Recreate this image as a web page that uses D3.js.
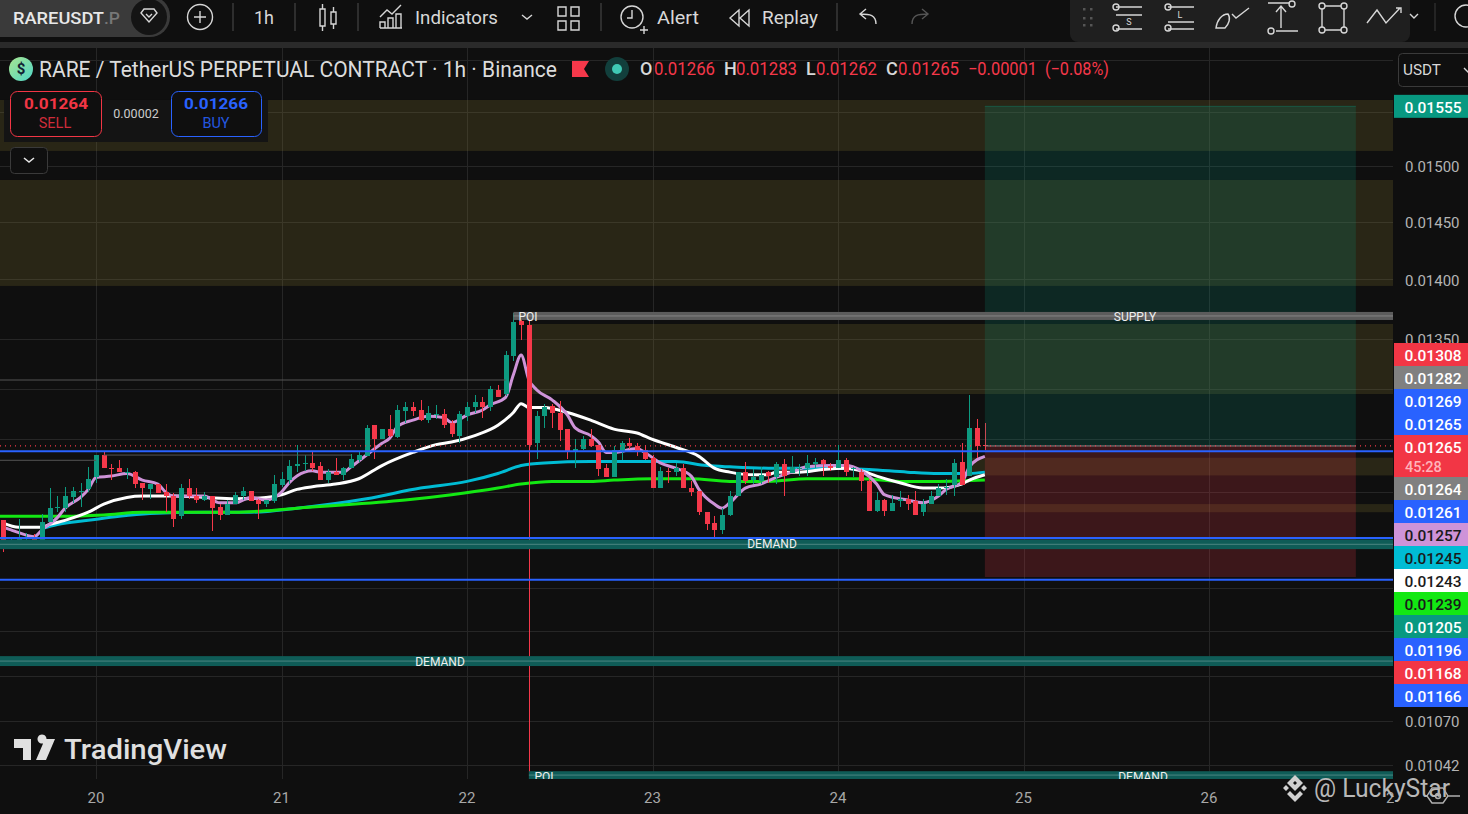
<!DOCTYPE html>
<html lang="en">
<head>
<meta charset="utf-8">
<title>RAREUSDT.P 1h</title>
<style>
	html, body { margin:0; padding:0; background:#0f0f0f; overflow:hidden; }
	svg { display:block; font-family:Roboto, sans-serif; }
	.icon { fill:none; stroke:#d6d6d6; stroke-width:1.4; }
</style>
</head>
<body>
<script src="https://cdn.jsdelivr.net/npm/d3@7"></script>
<script>
// candles, prices in ticks of 0.00001
var opens = [1209,1190,1191,1193,1197,1191,1208,1218,1218,1226,1230,1232,1241,1258,1248,1248,1244,1245,1237,1232,
	1236,1230,1227,1212,1233,1227,1224,1227,1219,1213,1221,1227,1231,1224,1221,1223,1235,1239,1250,1251,
	1252,1250,1239,1245,1243,1248,1254,1257,1281,1270,1278,1272,1292,1295,1293,1285,1289,1290,1283,1273,
	1288,1295,1299,1295,1309,1306,1336,1365,1362,1267,1288,1296,1291,1278,1260,1263,1270,1266,1248,1241,
	1260,1267,1265,1262,1256,1233,1246,1245,1248,1233,1231,1215,1207,1202,1213,1227,1245,1239,1238,1245,
	1241,1251,1244,1247,1248,1251,1254,1250,1248,1254,1247,1245,1238,1216,1224,1216,1223,1225,1223,1215,
	1221,1227,1233,1235,1253,1242,1279,1266];
var closes = [1190,1193,1197,1194,1190,1208,1218,1219,1227,1231,1231,1240,1258,1248,1247,1245,1245,1236,1233,1236,
	1229,1227,1210,1233,1227,1224,1227,1218,1213,1221,1228,1231,1223,1221,1224,1236,1240,1250,1251,1252,
	1248,1239,1245,1243,1248,1255,1258,1279,1270,1278,1273,1293,1295,1292,1285,1291,1290,1281,1274,1290,
	1295,1299,1295,1310,1303,1337,1364,1362,1266,1288,1295,1291,1277,1260,1263,1270,1265,1247,1241,1262,
	1267,1265,1261,1255,1233,1246,1245,1248,1233,1230,1215,1206,1202,1213,1227,1245,1238,1241,1243,1242,
	1251,1242,1249,1248,1252,1253,1251,1248,1254,1245,1248,1238,1216,1224,1216,1222,1225,1221,1213,1221,
	1227,1233,1234,1252,1235,1279,1265,1265];
var highs = [1209,1195,1210,1200,1199,1214,1233,1227,1234,1234,1237,1249,1258,1260,1251,1254,1248,1246,1237,1236,
	1236,1236,1229,1236,1240,1233,1230,1227,1221,1224,1230,1234,1231,1225,1224,1243,1245,1254,1266,1258,
	1260,1253,1247,1256,1249,1259,1260,1281,1281,1278,1289,1297,1299,1299,1301,1296,1297,1294,1285,1292,
	1299,1305,1303,1312,1313,1340,1372,1370,1366,1292,1298,1298,1300,1278,1270,1273,1278,1266,1251,1265,
	1269,1271,1267,1266,1258,1249,1248,1252,1251,1238,1231,1215,1212,1218,1231,1245,1253,1247,1249,1246,
	1253,1255,1257,1251,1258,1256,1255,1252,1266,1256,1249,1247,1240,1230,1225,1228,1231,1228,1231,1225,
	1231,1236,1240,1255,1267,1305,1286,1283];
var lows = [1186,1189,1191,1191,1188,1191,1208,1215,1215,1222,1219,1230,1237,1248,1239,1245,1240,1233,1224,1225,
	1229,1215,1204,1210,1225,1222,1223,1201,1209,1213,1221,1224,1223,1210,1219,1222,1234,1236,1245,1246,
	1246,1239,1237,1243,1239,1248,1253,1257,1255,1270,1272,1271,1283,1288,1284,1283,1286,1279,1272,1267,
	1284,1291,1287,1292,1303,1304,1332,1349,1033,1255,1279,1279,1269,1255,1248,1262,1264,1242,1241,1241,
	1254,1263,1257,1254,1233,1233,1237,1242,1233,1227,1213,1202,1197,1199,1212,1227,1236,1236,1236,1237,
	1236,1227,1244,1242,1242,1248,1242,1246,1248,1242,1241,1231,1216,1215,1212,1216,1219,1217,1213,1212,
	1221,1227,1228,1227,1235,1242,1256,1262];

// moving averages, read at these hours (hour 0 = day 20 00:00)
var purpleHours = [-12,-11,-10,-8,-7,-5,-4,-2,-1,0,2,4,6,8,9,10,12,14,16,18,20,22,24,25,26,28,29,32,33,35,37,38,39,41,43,45,46,48,50,51,53,54,55,56,57,59,61,62,64,65,66,67,70,71,73,75,77,78,80,81,82,84,86,88,90,92,95,97,99,101,102,105,107,109,110,112,113,115];
var purpleMA = [1204,1202,1200,1197,1202,1211,1218,1226,1232,1241,1242,1244,1239,1236,1230,1227,1227,1227,1222,1222,1226,1224,1230,1237,1242,1246,1245,1245,1249,1258,1267,1271,1280,1285,1288,1287,1283,1289,1293,1297,1303,1321,1337,1317,1309,1301,1289,1279,1273,1268,1260,1260,1263,1260,1252,1248,1242,1232,1221,1218,1222,1233,1236,1241,1245,1249,1250,1250,1246,1236,1228,1224,1222,1227,1232,1237,1249,1257];
var whiteHours = [-12,-10,-7,-6,-4,-1,1,4,6,10,14,18,22,24,26,28,31,34,37,41,44,46,49,52,54,55,56,58,61,64,67,70,72,75,78,80,82,85,87,88,91,94,97,99,101,104,107,109,112,113,115];
var whiteMA = [1207,1204,1204,1206,1209,1215,1221,1226,1227,1227,1226,1225,1226,1228,1232,1234,1236,1240,1250,1260,1266,1268,1273,1281,1291,1298,1295,1295,1291,1285,1278,1275,1270,1264,1257,1248,1245,1243,1243,1245,1245,1247,1248,1246,1242,1237,1233,1233,1236,1239,1243];
var cyanHours = [-7,-5,-1,3,7,14,20,26,35,42,48,52,55,58,64,70,75,79,82,87,95,100,105,109,113,115];
var cyanMA = [1203,1206,1209,1212,1214,1215,1215,1218,1225,1233,1238,1244,1250,1252,1253,1253,1253,1250,1249,1248,1248,1247,1245,1244,1244,1245];
var greenHours = [-13,-8,-4,1,6,12,18,22,26,40,46,52,55,59,64,67,72,77,82,87,92,99,104,109,115];
var greenMA = [1212,1212,1212,1213,1215,1215,1215,1216,1218,1224,1228,1233,1236,1238,1238,1239,1240,1240,1238,1238,1240,1240,1238,1238,1239];

// drawings on the chart, [from hour, to hour, top price, bottom price]
var supplyZones = [[-13,170,0.015615,0.015138],[-13,170,0.014873,0.013944],[56,170,0.013625,0.013056],[113,170,0.01256,0.012425],[107.5,170,0.01221,0.01215]];
var demandBands = [[-13,170,0.01195,0.01188],[-13,170,0.011131,0.011064],[56,170,0.010378,0.010329]];
var poiBand = [54,170,0.013725,0.013658];
var blueLines = [0.01261,0.01196,0.01166];
var grayLines = [[-13,0,0.01254],[1,33,0.01258],[-13,53,0.013168]];
var lastPrice = 0.01265;
var position = {from:115, to:163, target:0.01555, entry:0.01265, stop:0.01168};

var priceGrid = [0.016,0.0155,0.015,0.0145,0.014,0.0135,0.0131,0.0127,0.0123,0.0119,0.0116,0.0113,0.011,0.0107,0.01042];
var priceLabels = [0.015,0.0145,0.014,0.0135,0.0107,0.01042];
var dayLabels = ["20","21","22","23","24","25","26","27"];

var badgeLabels = ["0.01308","0.01282","0.01269","0.01265","0.01265","0.01264","0.01261","0.01257","0.01245","0.01243","0.01239","0.01205","0.01196","0.01168","0.01166"];
var badgeColors = ["#f23645","#808080","#2962ff","#2962ff","#f23645","#808080","#2962ff","#ce93d8","#00bcd4","#ffffff","#13e813","#089981","#2962ff","#f23645","#2962ff"];
var badgeText = ["#fff","#fff","#fff","#fff","#fff","#fff","#fff","#1a1a1a","#1a1a1a","#1a1a1a","#1a1a1a","#fff","#fff","#fff","#fff"];

var w = 1468, h = 814, plotW = 1393, plotTop = 48, plotBottom = 779;
var tick = 0.00001;
var red = "#f5384a", green = "#0d9a80";

var x = d3.scaleLinear().domain([0,24]).range([96,281.5]);
var y = d3.scaleLog().domain([0.015,0.0107]).range([166,721]);

var candles = d3.range(opens.length).map(function(i){
	return {hour:i - 12, o:opens[i]*tick, h:highs[i]*tick, l:lows[i]*tick, c:closes[i]*tick};
});

var svg = d3.select("body").append("svg").attr("width",w).attr("height",h);
svg.append("rect").attr("width",w).attr("height",h).attr("fill","#0f0f0f");

var defs = svg.append("defs");
defs.append("clipPath").attr("id","plot").append("rect").attr("x",0).attr("y",plotTop).attr("width",plotW).attr("height",plotBottom-plotTop);
defs.append("clipPath").attr("id","timeClip").append("rect").attr("x",0).attr("y",plotBottom).attr("width",plotW+1).attr("height",h-plotBottom);
var grad = defs.append("linearGradient").attr("id","coin").attr("x1",0).attr("y1",0).attr("x2",1).attr("y2",1);
grad.append("stop").attr("offset",0).attr("stop-color","#a9e58f");
grad.append("stop").attr("offset",1).attr("stop-color","#4fd6c8");

function text(g,px,py,str,o){
	o = o || {};
	var t = g.append("text").attr("x",px).attr("y",py).text(str)
		.attr("font-size",o.size || 14)
		.attr("fill",o.fill || "#d8d8d8")
		.attr("text-anchor",o.anchor || "start")
		.attr("font-weight",o.weight || 400);
	if(o.len){ t.attr("textLength",o.len).attr("lengthAdjust","spacingAndGlyphs"); }
	return t;
}

// grid
var plot = svg.append("g").attr("clip-path","url(#plot)");
plot.selectAll(".gridH").data(priceGrid).enter().append("line")
	.attr("x1",0).attr("x2",plotW)
	.attr("y1",function(d){return Math.round(y(d))+0.5;}).attr("y2",function(d){return Math.round(y(d))+0.5;})
	.attr("stroke","#262626");
plot.selectAll(".gridV").data(dayLabels).enter().append("line")
	.attr("x1",function(d,i){return Math.round(x(i*24))+0.5;}).attr("x2",function(d,i){return Math.round(x(i*24))+0.5;})
	.attr("y1",plotTop).attr("y2",plotBottom)
	.attr("stroke","#262626");

// supply zones
plot.selectAll(".zone").data(supplyZones).enter().append("rect")
	.attr("x",function(d){return x(d[0]);})
	.attr("width",function(d){return x(d[1])-x(d[0]);})
	.attr("y",function(d){return y(d[2]);})
	.attr("height",function(d){return y(d[3])-y(d[2]);})
	.attr("fill","#8a7a30").attr("fill-opacity",0.22);

// moving averages sit under the candles
var line = d3.line().x(function(d){return x(d[0]);}).y(function(d){return y(d[1]*tick);}).curve(d3.curveMonotoneX);
function ma(hours,values,color,width){
	plot.append("path").attr("d",line(d3.zip(hours,values)))
		.attr("fill","none").attr("stroke",color).attr("stroke-width",width);
}
ma(cyanHours,cyanMA,"#00bcd4",3);
ma(greenHours,greenMA,"#13e813",3);
ma(whiteHours,whiteMA,"#ffffff",3);
ma(purpleHours,purpleMA,"#ce93d8",3);

// candles
var bars = plot.selectAll(".candle").data(candles).enter().append("g").attr("shape-rendering","crispEdges");
bars.append("line")
	.attr("x1",function(d){return Math.round(x(d.hour))+0.5;}).attr("x2",function(d){return Math.round(x(d.hour))+0.5;})
	.attr("y1",function(d){return y(d.h);}).attr("y2",function(d){return y(d.l);})
	.attr("stroke",function(d){return d.c < d.o ? red : green;}).attr("stroke-width",1);
bars.append("rect")
	.attr("x",function(d){return Math.round(x(d.hour))-2;}).attr("width",5)
	.attr("y",function(d){return y(Math.max(d.o,d.c));})
	.attr("height",function(d){return Math.max(1,Math.abs(y(d.o)-y(d.c)));})
	.attr("fill",function(d){return d.c < d.o ? red : green;});

// long position box
plot.append("rect").attr("x",x(position.from)).attr("width",x(position.to)-x(position.from))
	.attr("y",y(position.target)-1).attr("height",y(position.entry)-y(position.target)+1)
	.attr("fill","#089981").attr("fill-opacity",0.18);
plot.append("rect").attr("x",x(position.from)).attr("width",x(position.to)-x(position.from))
	.attr("y",y(position.entry)).attr("height",y(position.stop)-y(position.entry))
	.attr("fill","#f23645").attr("fill-opacity",0.2);
plot.append("line").attr("x1",x(position.from)).attr("x2",x(position.to))
	.attr("y1",y(position.target)-0.5).attr("y2",y(position.target)-0.5).attr("stroke","#089981").attr("stroke-opacity",0.3);
plot.append("line").attr("x1",x(position.from)).attr("x2",x(position.to))
	.attr("y1",y(position.entry)).attr("y2",y(position.entry)).attr("stroke","#8a8a8a");

// demand and poi bands
function band(d,color){
	plot.append("rect").attr("x",x(d[0])).attr("width",x(d[1])-x(d[0]))
		.attr("y",y(d[2])).attr("height",y(d[3])-y(d[2])).attr("fill",color);
	plot.append("line").attr("x1",x(d[0])).attr("x2",x(d[1]))
		.attr("y1",(y(d[2])+y(d[3]))/2).attr("y2",(y(d[2])+y(d[3]))/2)
		.attr("stroke","#ffffff").attr("stroke-opacity",0.25);
}
demandBands.forEach(function(d){ band(d,"#0f5c57"); });
band(poiBand,"#5c5c5c");

// horizontal lines
plot.selectAll(".gray").data(grayLines).enter().append("line")
	.attr("x1",function(d){return x(d[0]);}).attr("x2",function(d){return x(d[1]);})
	.attr("y1",function(d){return y(d[2]);}).attr("y2",function(d){return y(d[2]);})
	.attr("stroke","#555");
plot.append("line").attr("x1",0).attr("x2",plotW).attr("y1",y(lastPrice)).attr("y2",y(lastPrice))
	.attr("stroke",red).attr("stroke-width",1.2).attr("stroke-dasharray","1 4");
plot.selectAll(".blue").data(blueLines).enter().append("line")
	.attr("x1",0).attr("x2",plotW)
	.attr("y1",function(d){return y(d);}).attr("y2",function(d){return y(d);})
	.attr("stroke","#2962ff").attr("stroke-width",2);

// band labels
var tag = {size:12, fill:"#f0f0f0", anchor:"middle"};
text(plot,528,321,"POI",tag);
text(plot,1135,321,"SUPPLY",tag);
text(plot,772,548,"DEMAND",tag);
text(plot,440,666,"DEMAND",tag);
text(plot,544,781,"POI",tag);
text(plot,1143,781,"DEMAND",tag);

// price axis
var priceAxis = svg.append("g").attr("transform","translate("+plotW+",1)")
	.call(d3.axisRight(y).tickValues(priceLabels).tickFormat(d3.format(".5f")).tickSize(0).tickPadding(12));
priceAxis.select(".domain").remove();
priceAxis.selectAll("text").attr("font-family","Roboto").attr("font-size",15).attr("fill","#b4b4b4");

// time axis
var timeAxis = svg.append("g").attr("clip-path","url(#timeClip)").append("g")
	.attr("transform","translate(-0.5,"+plotBottom+")")
	.call(d3.axisBottom(x).tickValues(d3.range(dayLabels.length).map(function(i){return i*24;}))
		.tickFormat(function(d){return dayLabels[d/24];}).tickSize(0).tickPadding(13));
timeAxis.select(".domain").remove();
timeAxis.selectAll("text").attr("font-family","Roboto").attr("font-size",15).attr("fill","#a8a8a8");

// price badges
svg.append("rect").attr("x",plotW+1).attr("y",y(position.target)-12).attr("width",74).attr("height",23).attr("fill","#089981");
text(svg,1433,y(position.target)+6,"0.01555",{size:15.5,fill:"#fff",anchor:"middle",weight:500});
var badgeY = 343;
badgeLabels.forEach(function(d,i){
	var bh = i === 4 ? 42 : 23;
	svg.append("rect").attr("x",plotW+1).attr("y",badgeY).attr("width",74).attr("height",bh).attr("fill",badgeColors[i]);
	text(svg,1433,badgeY+18,d,{size:15.5,fill:badgeText[i],anchor:"middle",weight:500});
	if(i === 4){ text(svg,1405,badgeY+37,"45:28",{size:14.5,fill:"#ffb3ba",weight:500}); }
	badgeY += bh;
});

// toolbar
svg.append("rect").attr("x",0).attr("y",42).attr("width",w).attr("height",6).attr("fill","#2a2a2a");
var bar = svg.append("g");
bar.append("rect").attr("x",-20).attr("y",-4).attr("width",190).attr("height",41).attr("rx",20).attr("fill","#3a3a3a");
text(bar,13,24,"RAREUSDT",{size:17,fill:"#e8e8e8",weight:500,len:91});
text(bar,104,24,".P",{size:17,fill:"#777",weight:500,len:16});
bar.append("circle").attr("cx",149).attr("cy",17).attr("r",18).attr("fill","#141414");
bar.append("path").attr("class","icon").attr("d","M141 13l3-4h10l3 4-8 9zM146 14l3 3 3-3");
bar.append("circle").attr("class","icon").attr("cx",200).attr("cy",17).attr("r",12.5);
bar.append("path").attr("class","icon").attr("d","M194 17h12M200 11v12");
[233,295,358,601,837].forEach(function(sx){
	bar.append("line").attr("x1",sx).attr("x2",sx).attr("y1",3).attr("y2",31).attr("stroke","#3a3a3a").attr("stroke-width",1.5);
});
text(bar,254,24,"1h",{size:18,len:20});
bar.append("path").attr("class","icon").attr("d","M320 9h5v17h-5zM322.5 4v5M322.5 26v5M331 12h5v12h-5zM333.5 7v5M333.5 24v5");
bar.append("path").attr("class","icon").attr("d","M380 28h22M380 28v-6h5v6M388 28v-10h5v10M396 28v-14h5v14M380 17l7-7 5 4 9-9");
text(bar,415,24,"Indicators",{size:18,len:83});
bar.append("path").attr("class","icon").attr("d","M522 15l5 4 5-4");
bar.append("path").attr("class","icon").attr("d","M558 7h8v9h-8zM571 7h8v9h-8zM558 21h8v9h-8zM571 21h8v9h-8z");
bar.append("circle").attr("class","icon").attr("cx",632).attr("cy",17).attr("r",11);
bar.append("path").attr("class","icon").attr("d","M632 10v8h-5M640 30h8M644 26v8");
text(bar,657,24,"Alert",{size:18,len:42});
bar.append("path").attr("class","icon").attr("d","M739 10l-9 8 9 8zM749 10l-9 8 9 8z");
text(bar,762,24,"Replay",{size:18,len:56});
bar.append("path").attr("class","icon").attr("d","M876 24c0-9-6-10-16-10M866 9l-6 5 6 5");
bar.append("path").attr("class","icon").attr("d","M912 24c0-9 6-10 16-10M922 9l6 5-6 5").style("stroke","#555");

// drawing tools panel
svg.append("path").attr("d","M1070 0h340v34a8 8 0 0 1-8 8h-324a8 8 0 0 1-8-8z").attr("fill","#1f1f1f");
var tools = svg.append("g");
[[1083,8],[1090,8],[1083,17],[1090,17],[1083,24],[1090,24]].forEach(function(p){
	tools.append("rect").attr("x",p[0]).attr("y",p[1]).attr("width",2.5).attr("height",2.5).attr("fill","#555");
});
tools.append("path").attr("class","icon").attr("d","M1116 7h26M1116 15h26M1116 29h26");
tools.append("circle").attr("class","icon").attr("cx",1116).attr("cy",7).attr("r",3);
tools.append("circle").attr("class","icon").attr("cx",1116).attr("cy",28).attr("r",3);
text(tools,1129,25,"S",{size:9,anchor:"middle"});
tools.append("path").attr("class","icon").attr("d","M1168 7h26M1168 22h26M1168 29h26");
tools.append("circle").attr("class","icon").attr("cx",1168).attr("cy",7).attr("r",3);
tools.append("circle").attr("class","icon").attr("cx",1168).attr("cy",28).attr("r",3);
text(tools,1180,18,"L",{size:9,anchor:"middle"});
tools.append("path").attr("class","icon").attr("d","M1216 28c1-8 6-14 12-14 3 4 1 10-3 14zM1232 14l4 4 13-10");
tools.append("path").attr("class","icon").attr("d","M1268 3h22M1281 28v-22M1276 12l5-6 5 6M1276 31h22");
tools.append("circle").attr("class","icon").attr("cx",1271).attr("cy",31).attr("r",3);
tools.append("circle").attr("class","icon").attr("cx",1292).attr("cy",4).attr("r",3);
tools.append("path").attr("class","icon").attr("d","M1322 6h22v24h-22z");
[[1322,6],[1344,6],[1322,30],[1344,30]].forEach(function(p){
	tools.append("circle").attr("cx",p[0]).attr("cy",p[1]).attr("r",3).attr("fill","#1f1f1f").attr("stroke","#d6d6d6").attr("stroke-width",1.4);
});
tools.append("path").attr("class","icon").attr("d","M1367 23l10-13 9 13 14-15M1396 8h5v5");
tools.append("path").attr("class","icon").attr("d","M1410 14l4 4 4-4");
tools.append("line").attr("x1",1435).attr("x2",1435).attr("y1",3).attr("y2",31).attr("stroke","#3a3a3a");
tools.append("circle").attr("class","icon").attr("cx",1466).attr("cy",16).attr("r",11);

// chart title row
var head = svg.append("g");
head.append("circle").attr("cx",21).attr("cy",69).attr("r",12).attr("fill","url(#coin)");
text(head,21,74,"$",{size:15,fill:"#123",anchor:"middle",weight:700});
text(head,39,77,"RARE / TetherUS PERPETUAL CONTRACT · 1h · Binance",{size:22,fill:"#dcdcdc",len:518});
head.append("path").attr("d","M572 61h17l-5 8 5 8h-17z").attr("fill","#f5384a");
head.append("circle").attr("cx",617).attr("cy",69).attr("r",12).attr("fill","#123f3c");
head.append("circle").attr("cx",617).attr("cy",69).attr("r",5).attr("fill","#3fc9b4");

var legendLabels = [["O",640],["H",724],["L",806],["C",886]];
var legendValues = [["0.01266",654,61],["0.01283",736,61],["0.01262",816,61],["0.01265",898,61],["−0.00001",968,69],["(−0.08%)",1045,64]];
legendLabels.forEach(function(d){ text(head,d[1],75,d[0],{size:18,fill:"#d8d8d8",weight:500}); });
legendValues.forEach(function(d){ text(head,d[1],75,d[0],{size:18,fill:"#f5384a",len:d[2]}); });

// unit selector
svg.append("rect").attr("x",1398.5).attr("y",53.5).attr("width",80).attr("height",33).attr("rx",4).attr("fill","#0f0f0f").attr("stroke","#3a3a3a");
text(svg,1403,75,"USDT",{size:15,fill:"#d8d8d8",len:38});
svg.append("path").attr("class","icon").attr("d","M1464 68l4 4 4-4");

// sell / buy widget
var trade = svg.append("g");
trade.append("rect").attr("x",4).attr("y",100).attr("width",264).attr("height",42).attr("fill","#141414");
trade.append("rect").attr("x",10.5).attr("y",91.5).attr("width",91).attr("height",45).attr("rx",7).attr("fill","#0f0f0f").attr("stroke","#f23645");
trade.append("rect").attr("x",171.5).attr("y",91.5).attr("width",90).attr("height",45).attr("rx",7).attr("fill","#0f0f0f").attr("stroke","#2962ff");
text(trade,56,109,"0.01264",{size:15,fill:"#f23645",anchor:"middle",weight:700,len:64});
text(trade,55,128,"SELL",{size:14.5,fill:"#d02c3a",anchor:"middle"});
text(trade,136,118,"0.00002",{size:12.5,fill:"#cccccc",anchor:"middle"});
text(trade,216,109,"0.01266",{size:15,fill:"#2962ff",anchor:"middle",weight:700,len:64});
text(trade,216,128,"BUY",{size:14.5,fill:"#2458e0",anchor:"middle"});
trade.append("rect").attr("x",10.5).attr("y",147.5).attr("width",37).attr("height",26).attr("rx",4).attr("fill","#0f0f0f").attr("stroke","#3a3a3a");
trade.append("path").attr("d","M24 158l5 4 5-4").attr("fill","none").attr("stroke","#e6e6e6").attr("stroke-width",1.6);

// watermarks
var marks = svg.append("g");
marks.append("path").attr("d","M14 739h17v21h-8v-12h-9zM37.500 739a4.500 4.500 0 1 1 0 .01zM45 739h10l-9 21h-10z").attr("fill","#e0e0e0");
text(marks,64,759,"TradingView",{size:28,fill:"#e0e0e0",weight:500,len:163});
marks.append("path").attr("d","M1295 775l8 8-8 8-8-8zM1295 781l2 2-2 2-2-2zM1283 788l3-3 3 3-3 3zM1301 788l3-3 3 3-3 3zM1295 802l-8-8 3-3 5 5 5-5 3 3z")
	.attr("fill","#d0d0d0").attr("fill-rule","evenodd");
text(marks,1314,797,"@ LuckyStar",{size:25,fill:"#b8b8b8",len:136});
marks.append("path").attr("d","M1432 803l-5-7 5-8h11l5 8-5 7zM1448 796h12").attr("fill","none").attr("stroke","#b0b0b0").attr("stroke-width",1.4);
marks.append("circle").attr("cx",1438).attr("cy",796).attr("r",2.5).attr("fill","none").attr("stroke","#b0b0b0").attr("stroke-width",1.4);
</script>
</body>
</html>
